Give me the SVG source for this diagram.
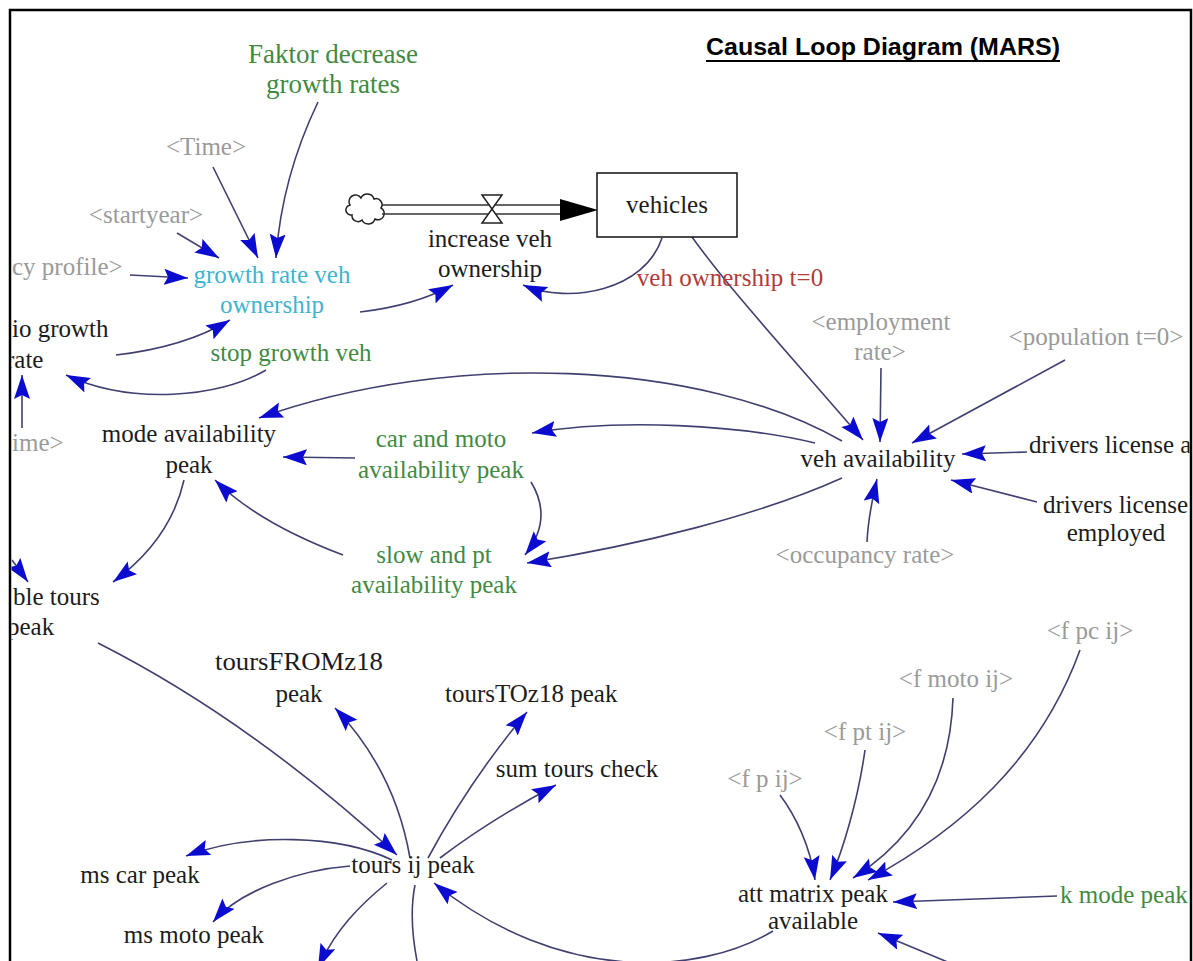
<svg xmlns="http://www.w3.org/2000/svg" width="1193" height="961" viewBox="0 0 1193 961">
<style>
text{font-family:"Liberation Serif","Times New Roman",serif;font-size:25px}
.m{text-anchor:middle}
.big{font-size:27px}
.blk{fill:#1c1c1c}
.gry{fill:#9a9a9a}
.grn{fill:#428a42}
.cyn{fill:#3fb3cf}
.red{fill:#b23a3a}
.ln{fill:none;stroke:#404070;stroke-width:1.6;marker-end:url(#ah)}
.pl{fill:none;stroke:#404070;stroke-width:1.6}
.title{font-family:"Liberation Sans",Arial,sans-serif;font-weight:bold;font-size:24px;fill:#000}
</style>
<defs>
<marker id="ah" markerUnits="userSpaceOnUse" markerWidth="27" markerHeight="17" refX="24" refY="8" orient="auto"><path d="M0,0 L24,8 L0,16 L4,8 z" fill="#0c0cd0"/></marker>
<clipPath id="frame"><rect x="11.5" y="11.5" width="1178" height="950"/></clipPath>
</defs>
<rect width="1193" height="961" fill="#fff"/>
<rect x="10" y="10" width="1181" height="1000" fill="none" stroke="#000" stroke-width="2.5"/>
<g id="title">
<text class="title" x="706" y="55" textLength="354" lengthAdjust="spacingAndGlyphs">Causal Loop Diagram (MARS)</text>
<line x1="706" y1="61" x2="1060" y2="61" stroke="#000" stroke-width="2"/>
</g>
<g clip-path="url(#frame)">
<g id="connectors">
<path class="ln" d="M318,102 C295,150 280,200 276,258"/>
<path class="ln" d="M213,167 L258,258"/>
<path class="ln" d="M177,233 L219,258"/>
<path class="ln" d="M130,275 L188,278"/>
<path class="ln" d="M360,312 C395,308 425,300 453,285"/>
<path class="ln" d="M662,238 C645,290 570,305 523,285"/>
<path class="ln" d="M692,237 C730,290 790,355 863,440"/>
<path class="ln" d="M116,355 C160,350 200,338 230,320"/>
<path class="ln" d="M266,370 C220,398 130,405 66,375"/>
<path class="ln" d="M22,428 L22,375"/>
<path class="ln" d="M881,368 L880,442"/>
<path class="ln" d="M1065,360 L912,443"/>
<path class="ln" d="M1027,452 L962,454"/>
<path class="ln" d="M1037,502 L951,480"/>
<path class="ln" d="M867,542 C868,520 872,500 877,479"/>
<path class="ln" d="M842,441 C700,360 450,350 259,418"/>
<path class="ln" d="M815,443 C740,425 620,418 532,433"/>
<path class="ln" d="M842,478 C760,515 640,545 527,563"/>
<path class="ln" d="M531,482 C545,505 545,530 525,555"/>
<path class="ln" d="M355,458 L283,457"/>
<path class="ln" d="M343,555 C290,535 245,510 215,480"/>
<path class="ln" d="M184,480 C175,520 150,555 113,582"/>
<path class="ln" d="M12,560 L28,582"/>
<path class="ln" d="M98,643 Q250,720 397,855"/>
<path class="ln" d="M410,858 C400,800 375,750 335,708"/>
<path class="ln" d="M428,858 Q470,780 527,712"/>
<path class="ln" d="M440,858 Q490,820 556,785"/>
<path class="ln" d="M392,860 C340,835 250,832 186,856"/>
<path class="ln" d="M350,866 C300,870 240,890 213,922"/>
<path class="ln" d="M387,883 C360,905 335,930 318,968"/>
<path class="pl" d="M415,885 C410,910 413,940 417,961"/>
<path class="ln" d="M773,931 C700,975 560,985 434,883"/>
<path class="ln" d="M780,795 C795,815 810,845 815,880"/>
<path class="ln" d="M865,750 C858,800 843,850 830,880"/>
<path class="ln" d="M953,698 C950,790 905,845 853,878"/>
<path class="ln" d="M1080,650 C1040,760 960,830 868,880"/>
<path class="ln" d="M1057,896 L893,902"/>
<path class="ln" d="M950,963 L878,933"/>
</g>
<g id="flow">
<path d="M350,205 a6,6 0 0 1 11,-7 a7,7 0 0 1 13,1 a6,6 0 0 1 7,9 a6,6 0 0 1 -6,11 a7,7 0 0 1 -13,1 a6,6 0 0 1 -10,-5 a5,5 0 0 1 -2,-10 z" fill="#fff" stroke="#222" stroke-width="1.5"/>
<line x1="382" y1="205" x2="562" y2="205" stroke="#333" stroke-width="1.6"/>
<line x1="382" y1="214" x2="562" y2="214" stroke="#333" stroke-width="1.6"/>
<path d="M560,199 L598,210 L560,221 z" fill="#000"/>
<path d="M482,195 L502,195 L482,223 L502,223 Z" fill="#fff" stroke="#222" stroke-width="1.5"/>
</g>
<g id="faktor"><text class="grn m big" x="333" y="63">Faktor decrease</text><text class="grn m big" x="333" y="93">growth rates</text></g>
<g id="time"><text class="gry m" x="206" y="155">&lt;Time&gt;</text></g>
<g id="startyear"><text class="gry m" x="146" y="223">&lt;startyear&gt;</text></g>
<g id="occprofile"><text class="gry" x="12" y="275">cy profile&gt;</text></g>
<g id="growthrate"><text class="cyn m" x="272" y="283">growth rate veh</text><text class="cyn m" x="272" y="313">ownership</text></g>
<g id="increase"><text class="blk m" x="490" y="247">increase veh</text><text class="blk m" x="490" y="277">ownership</text></g>
<g id="vehicles"><rect x="597" y="173" width="140" height="64" fill="#fff" stroke="#111" stroke-width="1.5"/><text class="blk m" x="667" y="213">vehicles</text></g>
<g id="vehown"><text class="red m" x="730" y="286">veh ownership t=0</text></g>
<g id="nogrowth"><text class="blk" x="12" y="337">io growth</text><text class="blk" x="6" y="368">rate</text></g>
<g id="stopgrowth"><text class="grn m" x="291" y="361">stop growth veh</text></g>
<g id="time2"><text class="gry" x="12" y="451">ime&gt;</text></g>
<g id="modeavail"><text class="blk m" x="189" y="442">mode availability</text><text class="blk m" x="189" y="473">peak</text></g>
<g id="carmoto"><text class="grn m" x="441" y="447">car and moto</text><text class="grn m" x="441" y="478">availability peak</text></g>
<g id="employment"><text class="gry m" x="881" y="330">&lt;employment</text><text class="gry m" x="880" y="360">rate&gt;</text></g>
<g id="population"><text class="gry m" x="1096" y="345">&lt;population t=0&gt;</text></g>
<g id="vehavail"><text class="blk m" x="878" y="467">veh availability</text></g>
<g id="dla"><text class="blk" x="1029" y="453">drivers license a</text></g>
<g id="dle"><text class="blk" x="1043" y="513">drivers license</text><text class="blk m" x="1116" y="541">employed</text></g>
<g id="occrate"><text class="gry m" x="865" y="563">&lt;occupancy rate&gt;</text></g>
<g id="slowpt"><text class="grn m" x="434" y="563">slow and pt</text><text class="grn m" x="434" y="593">availability peak</text></g>
<g id="availtours"><text class="blk" x="13" y="605">ble tours</text><text class="blk" x="7" y="635">peak</text></g>
<g id="toursfrom"><text class="blk m" x="299" y="670" textLength="168" lengthAdjust="spacingAndGlyphs">toursFROMz18</text><text class="blk m" x="299" y="702">peak</text></g>
<g id="toursto"><text class="blk" x="445" y="702">toursTOz18 peak</text></g>
<g id="sumtours"><text class="blk m" x="577" y="777">sum tours check</text></g>
<g id="toursij"><text class="blk m" x="413" y="873">tours ij peak</text></g>
<g id="mscar"><text class="blk m" x="140" y="883">ms car peak</text></g>
<g id="msmoto"><text class="blk m" x="194" y="943">ms moto peak</text></g>
<g id="fpc"><text class="gry m" x="1090" y="639">&lt;f pc ij&gt;</text></g>
<g id="fmoto"><text class="gry m" x="956" y="687">&lt;f moto ij&gt;</text></g>
<g id="fpt"><text class="gry m" x="865" y="740">&lt;f pt ij&gt;</text></g>
<g id="fp"><text class="gry m" x="765" y="787">&lt;f p ij&gt;</text></g>
<g id="attmatrix"><text class="blk m" x="813" y="902">att matrix peak</text><text class="blk m" x="813" y="929">available</text></g>
<g id="kmode"><text class="grn" x="1060" y="903">k mode peak</text></g>
</g>
</svg>
